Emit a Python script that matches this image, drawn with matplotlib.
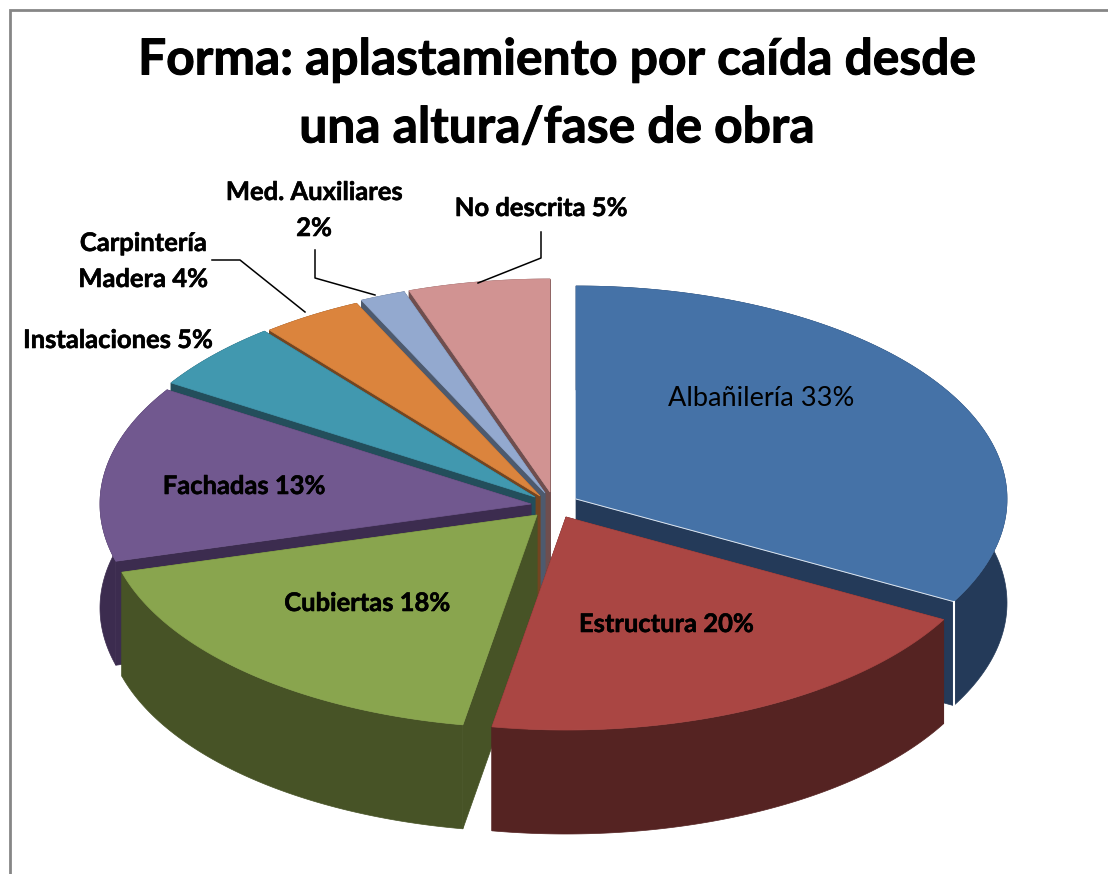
"""
plot.py

3D style exploded pie: Forma: aplastamiento por caida desde una altura/fase de obra
Saves result to out.png
"""

import numpy as np
import matplotlib
matplotlib.use("Agg")
import matplotlib.pyplot as plt
import matplotlib.patheffects as pe
from matplotlib.patches import Polygon

plt.rcParams["font.family"] = ["Lato", "DejaVu Sans"]

# ---- Data ----
categories = ["Albañilería", "Estructura", "Cubiertas", "Fachadas",
              "Instalaciones", "Carpintería Madera", "Med. Auxiliares", "No descrita"]
values = [33, 19.75, 17.92, 13.33, 5.2, 3.8, 1.7, 5.3]

top_colors = ["#4572a7", "#aa4643", "#89a54e", "#71588f",
              "#4198af", "#db843d", "#93a9cf", "#d19392"]
side_colors = ["#243a59", "#552322", "#475326", "#3c2c4f",
               "#234e5b", "#744520", "#4d5a6e", "#6f4e4e"]

# apex of each exploded slice, in pixels
apex_x = [576, 566, 537, 531, 535, 540, 545, 550]
apex_y = [499, 517, 515, 504, 497, 496, 493, 492]

RX, RY = 431, 213
DEPTH = 104


def slice_outline(i, t0, t1, dy=0):
    t = np.radians(np.linspace(t0, t1, 120))
    xs = apex_x[i] + RX * np.sin(t)
    ys = apex_y[i] - RY * np.cos(t) + dy
    return xs, ys


def draw_slice(ax, i, t0, t1):
    xs, ys = slice_outline(i, t0, t1)
    ax0, ay0 = apex_x[i], apex_y[i]
    side = side_colors[i]

    # cut faces, then outer wall, then the top
    for x, y in [(xs[0], ys[0]), (xs[-1], ys[-1])]:
        ax.add_patch(Polygon([(ax0, ay0), (x, y), (x, y + DEPTH), (ax0, ay0 + DEPTH)],
                             closed=True, facecolor=side, edgecolor=side, lw=0.5))
    wall = np.vstack([np.column_stack([xs, ys]),
                      np.column_stack([xs[::-1], ys[::-1] + DEPTH])])
    ax.add_patch(Polygon(wall, closed=True, facecolor=side, edgecolor=side, lw=0.5))
    top = np.vstack([[ax0, ay0], np.column_stack([xs, ys])])
    ax.add_patch(Polygon(top, closed=True, facecolor=top_colors[i],
                         edgecolor=top_colors[i], lw=0.5))


fig = plt.figure(figsize=(11.08, 8.74), dpi=100)
ax = fig.add_axes([0, 0, 1, 1])
ax.set_xlim(0, 1108)
ax.set_ylim(874, 0)
ax.axis("off")

# ---- Chart frame (only top and left show) ----
ax.plot([10, 10, 1108], [874, 10, 10], color="#868686", lw=2, solid_joinstyle="miter")

# ---- Slices, back to front ----
edges = np.concatenate([[0], np.cumsum(values)]) / np.sum(values) * 360
for i in [7, 6, 5, 4, 3, 0, 2, 1]:
    draw_slice(ax, i, edges[i], edges[i + 1])

# thin white edge on the Albanileria corner
xs, ys = slice_outline(0, edges[0], edges[1])
ax.plot([apex_x[0], xs[-1]], [apex_y[0], ys[-1]], color="#dfe6ef", lw=0.7)
ax.plot([xs[-1], xs[-1]], [ys[-1], ys[-1] + DEPTH], color="white", lw=1.5)

# ---- Title ----
heavy = [pe.withStroke(linewidth=0.7, foreground="black")]
ax.text(557, 60, "Forma: aplastamiento por caída desde", fontsize=35.8, fontweight="bold",
        ha="center", va="center", path_effects=heavy)
ax.text(557, 128, "una altura/fase de obra", fontsize=35.8, fontweight="bold",
        ha="center", va="center", path_effects=heavy)

# ---- Labels ----
LABEL_SIZE = 18.4
label_heavy = [pe.withStroke(linewidth=0.4, foreground="black")]
labels = [
    ("Estructura 20%", 666, 624),
    ("Cubiertas 18%", 367, 603),
    ("Fachadas 13%", 244, 486),
    ("Instalaciones 5%", 118, 340),
    ("Carpintería", 143, 243),
    ("Madera 4%", 143, 279),
    ("Med. Auxiliares", 314, 192),
    ("2%", 314, 228),
    ("No descrita 5%", 541, 208),
]
ax.text(761, 399, "Albañilería 33%", fontsize=19.5, ha="center", va="center")
for text, x, y in labels:
    ax.text(x, y, text, fontsize=LABEL_SIZE, fontweight="bold", ha="center", va="center",
            path_effects=label_heavy)

# ---- Leader lines ----
ax.plot([541, 541, 478], [232, 258, 283], color="black", lw=1.1)
ax.plot([315, 315, 375], [250, 278, 295], color="black", lw=1.1)
ax.plot([212, 240, 305], [260, 260, 312], color="black", lw=1.1)

plt.savefig("out.png", dpi=100)
plt.close()
